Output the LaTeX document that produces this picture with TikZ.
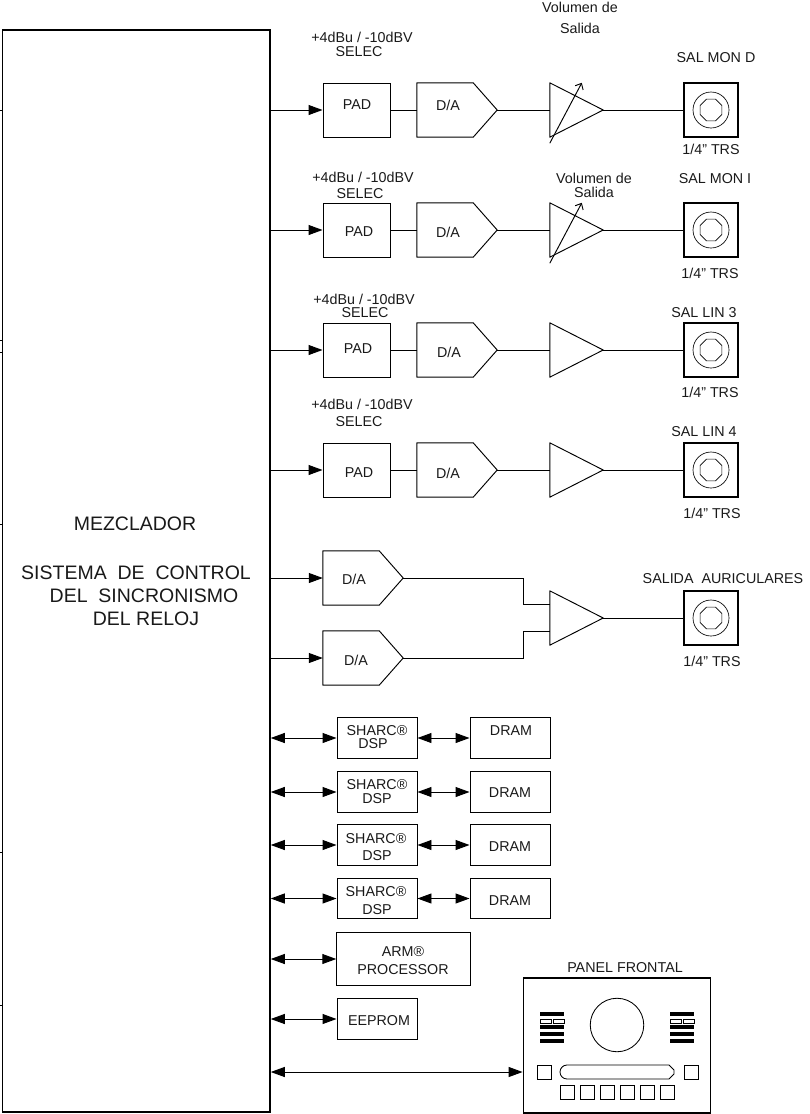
\documentclass[tikz,border=0pt]{standalone}
\usepackage{fontspec}
\setmainfont{Liberation Sans}
\usetikzlibrary{arrows.meta,calc,shapes.geometric}
\tikzset{
  thinln/.style={line width=0.95pt,black},
  boxn/.style={draw,line width=0.95pt,black,rectangle,inner sep=0pt,minimum width=#1},
  boxn/.default=67pt,
  anch/.style={rectangle,inner sep=0pt,minimum width=#1,minimum height=54pt},
  mainbox/.style={draw,line width=1.5pt,rectangle,inner sep=0pt,minimum width=267.5pt,minimum height=1082pt},
  jack/.style={draw,line width=1.6pt,rectangle,inner sep=0pt,minimum width=54pt,minimum height=54pt},
  txt/.style={inner sep=0pt,font=\fontsize{14.3}{14.3}\selectfont,text=black!90},
  big/.style={inner sep=0pt,font=\fontsize{19.5}{20}\selectfont,text=black!90},
  sig/.style={thinln,-{Triangle[length=14pt,width=10pt]}},
  bid/.style={thinln,{Triangle[length=14pt,width=10pt]}-{Triangle[length=14pt,width=10pt]}},
  pan/.style={draw,line width=0.85pt,black,rectangle,inner sep=0pt,minimum width=14pt,minimum height=14pt},
  bar/.style={fill=black,draw=none,rectangle,inner sep=0pt,minimum width=24pt,minimum height=4.4pt},
  mini/.style={draw,line width=0.6pt,rectangle,inner sep=0pt,minimum width=11pt,minimum height=4pt},
}
\newcommand{\DACshape}[3]{%
  \node[anch=80pt] (#1) at (#2,#3) {};
  \draw[thinln,line join=round] (#1.north west) -- ($(#1.north east)+(-24,0)$) -- (#1.east) -- ($(#1.south east)+(-24,0)$) -- (#1.south west) -- cycle;}
\newcommand{\AMPshape}[3]{%
  \node[anch=53pt] (#1) at (#2,#3) {};
  \draw[thinln,line join=round] (#1.north west) -- (#1.east) -- (#1.south west) -- cycle;}
\newcommand{\JACKshape}[3]{%
  \node[jack] (#1) at (#2,#3) {};
  \node[draw,line width=0.65pt,circle,inner sep=0pt,minimum size=36pt] (#1o) at (#1) {};
  \node[draw,line width=0.65pt,regular polygon,regular polygon sides=8,inner sep=0pt,minimum size=23.5pt] (#1i) at (#1) {};}
\newcommand{\BARS}[2]{%
  \node[bar] (#1a) at (#2,1014) {};
  \node[mini] (#1b) at (#2-6.5,1021) {};
  \node[mini] (#1c) at (#2+6.5,1021) {};
  \node[bar] (#1d) at (#2,1027) {};
  \node[bar] (#1e) at (#2,1034) {};
  \node[bar] (#1f) at (#2,1041) {};}
\begin{document}
\begin{tikzpicture}[x=1pt,y=-1pt]
\useasboundingbox (0,0) rectangle (810,1114);
\node[mainbox] (mix) at (136.25,571) {};
\coordinate (tk1) at (0,110); \coordinate (tk2) at (0,340); \coordinate (tk2b) at (0,352); \coordinate (tk3) at (0,524);
\coordinate (tk4) at (0,852); \coordinate (tk5) at (0,1005);
\foreach \t in {tk1,tk2,tk2b,tk3,tk4,tk5} \draw[line width=0.6pt] (\t) -- (mix.west |- \t);
\node[big] (m1) at (135,524) {MEZCLADOR};
\node[big] (m2) at (136,573) {SISTEMA\ \ DE\ \ CONTROL};
\node[big] (m3) at (144,596) {DEL\ \ SINCRONISMO};
\node[big] (m4) at (146,619) {DEL RELOJ};
\foreach \n/\y in {1/110,2/230,3/350,4/470}{
  \node[boxn,minimum height=54pt] (p\n) at (356.5,\y) {};
  \DACshape{d\n}{457}{\y}
  \AMPshape{a\n}{576.5}{\y}
  \JACKshape{j\n}{711}{\y}
  \draw[sig] (mix.east |- p\n.west) -- (p\n.west);
  \draw[thinln] (p\n.east) -- (d\n.west);
  \draw[thinln] (d\n.east) -- (a\n.west);
  \draw[thinln] (a\n.east) -- (j\n.west);
}
\foreach \n in {1,2}{
  \coordinate (v\n s) at ($(a\n.south west)+(0,6)$);
  \coordinate (v\n e) at ($(a\n.north west)+(32,0)$);
  \draw[thinln,-{Straight Barb[length=5pt,width=9pt]}] (v\n s) -- (v\n e);
}
\node[txt] (l1a) at (362,37) {+4dBu / -10dBV};
\node[txt] (l1b) at (359,52) {SELEC};
\node[txt] (l1c) at (357,105) {PAD};
\node[txt] (l1d) at (448,105) {D/A};
\node[txt] (l1e) at (580,7) {Volumen de};
\node[txt] (l1f) at (580,28) {Salida};
\node[txt] (l1g) at (716,58) {SAL MON D};
\node[txt] (l1h) at (711,149) {1/4” TRS};
\node[txt] (l2a) at (363,177) {+4dBu / -10dBV};
\node[txt] (l2b) at (360,194) {SELEC};
\node[txt] (l2c) at (359,232) {PAD};
\node[txt] (l2d) at (448,232) {D/A};
\node[txt] (l2e) at (594,178) {Volumen de};
\node[txt] (l2f) at (594,192) {Salida};
\node[txt] (l2g) at (715,179) {SAL MON I};
\node[txt] (l2h) at (710,273) {1/4” TRS};
\node[txt] (l3a) at (364,299) {+4dBu / -10dBV};
\node[txt] (l3b) at (365,313) {SELEC};
\node[txt] (l3c) at (358,349) {PAD};
\node[txt] (l3d) at (449,352) {D/A};
\node[txt] (l3g) at (704,313) {SAL LIN 3};
\node[txt] (l3h) at (710,392) {1/4” TRS};
\node[txt] (l4a) at (362,404) {+4dBu / -10dBV};
\node[txt] (l4b) at (359,422) {SELEC};
\node[txt] (l4c) at (359,473) {PAD};
\node[txt] (l4d) at (448,473) {D/A};
\node[txt] (l4g) at (704,432) {SAL LIN 4};
\node[txt] (l4h) at (712,513) {1/4” TRS};
\DACshape{d5}{363}{578}
\DACshape{d6}{363}{658}
\AMPshape{a5}{576.5}{618}
\coordinate (a5u) at ($(a5.west)+(0,-13.5)$);
\coordinate (a5l) at ($(a5.west)+(0,13.5)$);
\coordinate (k5) at (523,578); \coordinate (k6) at (523,658);
\JACKshape{j5}{711}{618}
\draw[sig] (mix.east |- d5.west) -- (d5.west);
\draw[sig] (mix.east |- d6.west) -- (d6.west);
\draw[thinln] (d5.east) -- (k5) |- (a5u);
\draw[thinln] (d6.east) -- (k6) |- (a5l);
\draw[thinln] (a5.east) -- (j5.west);
\node[txt] (l5a) at (354,579) {D/A};
\node[txt] (l5b) at (356,660) {D/A};
\node[txt] (l5g) at (723,579) {SALIDA\ \ AURICULARES};
\node[txt] (l5h) at (712,661) {1/4” TRS};
\foreach \n/\y in {1/738,2/792,3/845,4/898.5}{
  \node[boxn=80pt,minimum height=40.5pt] (s\n) at (377,\y) {};
  \node[boxn=80pt,minimum height=40.5pt] (r\n) at (510,\y) {};
  \draw[bid] (mix.east |- s\n.west) -- (s\n.west);
  \draw[bid] (s\n.east) -- (r\n.west);
}
\node[txt] (t1a) at (377,731) {SHARC®};
\node[txt] (t1b) at (373,744) {DSP};
\node[txt] (t1c) at (511,731) {DRAM};
\node[txt] (t2a) at (377,785) {SHARC®};
\node[txt] (t2b) at (377,799) {DSP};
\node[txt] (t2c) at (510,793) {DRAM};
\node[txt] (t3a) at (376,839) {SHARC®};
\node[txt] (t3b) at (377,856) {DSP};
\node[txt] (t3c) at (510,847) {DRAM};
\node[txt] (t4a) at (376,892) {SHARC®};
\node[txt] (t4b) at (377,910) {DSP};
\node[txt] (t4c) at (510,901) {DRAM};
\node[boxn=133.5pt,minimum height=53.5pt] (arm) at (403.5,959) {};
\node[boxn=80pt,minimum height=40.5pt] (eep) at (377,1019) {};
\draw[bid] (mix.east |- arm.west) -- (arm.west);
\draw[bid] (mix.east |- eep.west) -- (eep.west);
\node[txt] (t5a) at (403,952) {ARM®};
\node[txt] (t5b) at (403,970) {PROCESSOR};
\node[txt] (t6) at (379,1021) {EEPROM};
\node[draw,line width=1.3pt,rectangle,inner sep=0pt,minimum width=187.5pt,minimum height=135pt] (panel) at (617,1045.5) {};
\coordinate (pin) at (panel.west |- 0,1072);
\draw[bid] (mix.east |- pin) -- (pin);
\node[txt] (t7) at (625,968) {PANEL FRONTAL};
\node[draw,line width=0.85pt,circle,inner sep=0pt,minimum size=53.5pt] (knob) at (617,1025) {};
\BARS{bl}{552}
\BARS{br}{682}
\node[pan] (sl) at (544,1072) {};
\node[pan] (sr) at (691,1072) {};
\draw[line width=0.85pt,black,line join=round] (567,1065) -- (669,1065) -- (674,1070) -- (674,1074) -- (669,1079) -- (567,1079) to[out=180,in=-90] (560,1072) to[out=90,in=180] (567,1065) -- cycle;
\foreach \i/\x in {1/567,2/587,3/607.5,4/627,5/647,6/667}
  \node[pan] (b\i) at (\x,1092.5) {};
\end{tikzpicture}
\end{document}
